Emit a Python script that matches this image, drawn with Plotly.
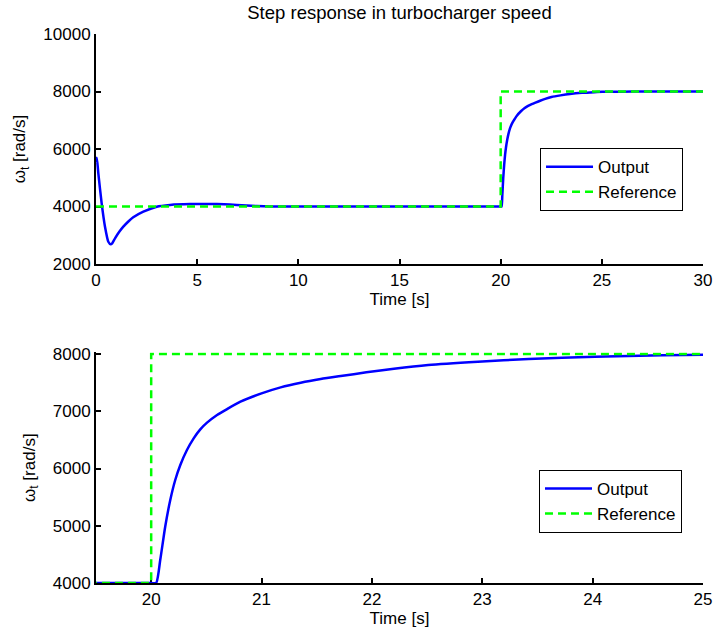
import plotly.graph_objects as go
from plotly.subplots import make_subplots

# ---- data ----
time_out = [0, 0.04, 0.115, 0.28, 0.445, 0.61, 0.725, 0.8, 0.94, 1.15, 1.35, 1.6, 1.84,
            2.34, 3.0, 3.66, 4.65, 5.97, 6.96, 7.94, 8.6, 10, 15, 20,
            20.045, 20.082, 20.127, 20.173, 20.218, 20.264, 20.324, 20.385, 20.445,
            20.506, 20.597, 20.688, 20.809, 21.0, 21.173, 21.355, 21.536, 21.718,
            21.95, 22.2, 22.51, 22.96, 23.42, 24.02, 24.63, 25.02, 26, 27, 28, 30]
speed_out = [5550, 5700, 5154, 4111, 3299, 2776, 2685, 2720, 2893, 3120, 3299, 3480, 3624,
             3820, 3994, 4055, 4085, 4085, 4055, 4015, 4000, 4000, 4000, 4000,
             4000, 4402, 4984, 5450, 5799, 6061, 6323, 6527, 6684,
             6801, 6935, 7039, 7167, 7313, 7418, 7499, 7563, 7616,
             7680, 7743, 7808, 7866, 7913, 7953, 7977, 7988, 7995, 7998, 8000, 8000]
time_ref = [0, 20, 20, 30]
speed_ref = [4000, 4000, 8000, 8000]

title_text = "Step response in turbocharger speed"
x_label = "Time [s]"
y_label = "ω<sub>t</sub> [rad/s]"

FONT = "Liberation Sans, Arial, sans-serif"
BLUE = "#0000FF"
GREEN = "#00FF00"

fig = make_subplots(rows=2, cols=1, vertical_spacing=0.16)

for row, leg in [(1, "legend"), (2, "legend2")]:
    fig.add_trace(go.Scatter(x=time_out, y=speed_out, mode="lines", name="Output",
                             line=dict(color=BLUE, width=2.5, shape="spline", smoothing=0.6),
                             legend=leg), row=row, col=1)
    fig.add_trace(go.Scatter(x=time_ref, y=speed_ref, mode="lines", name="Reference",
                             line=dict(color=GREEN, width=2.5, dash="8px,5px"), legend=leg),
                  row=row, col=1)

axis_common = dict(showline=True, linecolor="black", linewidth=2, mirror=False,
                   ticks="inside", ticklen=5, tickwidth=2, tickcolor="black",
                   showgrid=False, zeroline=False, automargin=False, layer="below traces",
                   tickfont=dict(family=FONT, size=17, color="black"),
                   tickformat="d")

fig.update_xaxes(**axis_common)
fig.update_yaxes(**axis_common)

fig.update_xaxes(range=[0, 30], dtick=5, tick0=0, row=1, col=1,
                 title=dict(text=x_label, font=dict(family=FONT, size=17, color="black"), standoff=4),
                 domain=[0, 1])
fig.update_xaxes(range=[19.5, 25], dtick=1, tick0=20, row=2, col=1,
                 title=dict(text=x_label, font=dict(family=FONT, size=17, color="black"), standoff=4),
                 domain=[0, 1])
fig.update_yaxes(range=[2000, 10000], dtick=2000, tick0=2000, row=1, col=1,
                 domain=[0.581, 1],
                 title=dict(text=y_label, font=dict(family=FONT, size=17, color="black"), standoff=13))
fig.update_yaxes(range=[4000, 8030], tickvals=[4000, 5000, 6000, 7000, 8000], row=2, col=1,
                 domain=[0, 0.4202],
                 title=dict(text=y_label, font=dict(family=FONT, size=17, color="black"), standoff=13))

legend_style = dict(bgcolor="white", bordercolor="black", borderwidth=1,
                    font=dict(family=FONT, size=17, color="black"),
                    xanchor="left", yanchor="top", tracegroupgap=0, itemwidth=47)

fig.update_layout(
    width=713, height=630,
    margin=dict(l=96, r=10, t=34, b=47),
    paper_bgcolor="white", plot_bgcolor="white",
    title=dict(text=title_text, x=0.5, xref="paper", xanchor="center", y=0.99, yanchor="top",
               font=dict(family=FONT, size=18.5, color="black")),
    legend=dict(x=0.7315, y=0.792, **legend_style),
    legend2=dict(x=0.7298, y=0.206, **legend_style),
)

fig.write_html("out.html")
